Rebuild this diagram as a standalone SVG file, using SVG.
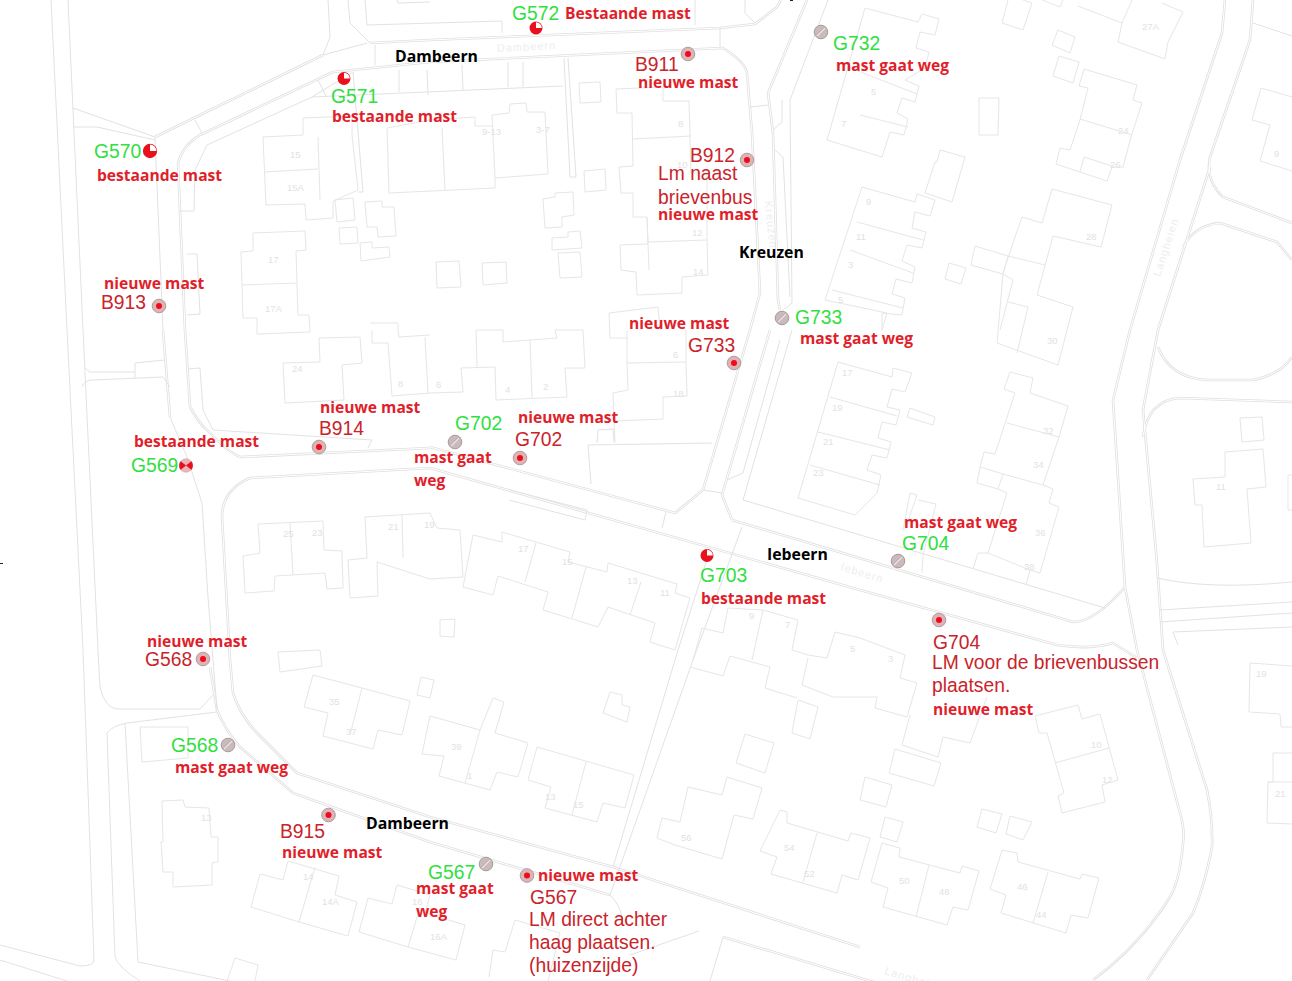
<svg xmlns="http://www.w3.org/2000/svg" xmlns:xlink="http://www.w3.org/1999/xlink" width="1292" height="981" viewBox="0 0 1292 981">
<style>
.m{fill:none;stroke:#e2e2e2;stroke-width:1;stroke-linejoin:round}
.b{fill:none;stroke:#e6e6e6;stroke-width:1;stroke-linejoin:round}
.n{font-family:"Liberation Sans",Arial,sans-serif;font-size:9.5px;fill:#e2e2e2}
.s{font-family:"Liberation Sans",Arial,sans-serif;font-size:11px;fill:#eeeeee}
.g{font-family:"Liberation Sans",Arial,sans-serif;font-size:19.3px;fill:#2fe03f}
.r{font-family:"Liberation Sans",Arial,sans-serif;font-size:19.3px;fill:#c9242b}
.t{font-family:"Open Sans",sans-serif;font-weight:700;font-size:15.6px;fill:#e01f2b}
.k{font-family:"Open Sans",sans-serif;font-weight:700;font-size:15.8px;fill:#000}
.ring{fill:#dcb4b6;stroke:#b39a9c;stroke-width:1}
.dot{fill:#ee0b1e}
.old{fill:#c9babc;stroke:#a89a9c;stroke-width:1}
.slash{stroke:#f1e6e6;stroke-width:1.3}
.slash2{stroke:#a88a8a;stroke-width:.8}
</style>
<defs>
<g id="dbl" fill="none" stroke-linejoin="round">
<path d="M210,667L217,710Q225,730 240,747L293,793L430,842L610,895"/>
<path d="M222,517L230,660L233,693Q240,715 257,733L297,773L430,817L613,867L860,947"/>
<path d="M723,937L860,978L977,1012"/>
<path d="M222,517Q222,490 250,478L430,468L860,590L1057,645Q1090,650 1113,643L1137,658"/>
<path d="M430,447L675,513L703,490"/>
<path d="M732,520L1073,622Q1095,622 1125,587"/>
<path d="M240,457L430,448"/>
<path d="M1225,0L1222,33L1180,160L1130,330L1113,400L1125,587L1137,650L1180,813Q1185,830 1183,843Q1180,880 1170,897Q1140,945 1093,980"/>
<path d="M1253,0L1250,40L1210,157Q1205,180 1223,197L1292,223"/>
<path d="M1210,167L1158,330L1143,410L1157,563L1163,650L1207,790Q1213,820 1212,847Q1205,885 1193,913L1147,980"/>
<path d="M1183,247Q1195,225 1220,223L1277,242L1292,260"/>
<path d="M1143,437Q1148,400 1180,398L1292,402"/>
<path d="M1158,347Q1170,378 1207,380L1253,380Q1280,375 1292,357"/>
<path d="M807,0L768,93L773,133L778,300L780,310"/>
<path d="M770,330L722,495L732,520"/>
<path d="M155,137L323,55"/>
<path d="M178,163Q183,145 200,135L333,72"/>
<path d="M163,330L170,417"/>
<path d="M178,163L185,330L190,407Q200,425 207,430Q225,450 240,457"/>
<path d="M430,62L333,72"/>
<path d="M430,62L723,48Q745,62 747,73L752,133L760,293L750,330L703,490"/>
<path d="M370,43L430,40L720,28L755,24L777,7L781,0"/>
</g>
<g id="mNew"><circle class="ring" r="6.8"/><circle class="dot" r="3"/></g>
<g id="mOld"><circle class="old" r="6.8"/><path class="slash2" d="M-4.6,3.4L3.4,-4.6"/><path class="slash" d="M-4,4L4,-4"/></g>
<g id="mPie"><circle r="6.5" fill="#e8101c"/><path d="M0,0V-5.8A5.8,5.8 0 0 1 5.8,0Z" fill="#fff"/></g>
</defs>
<rect width="1292" height="981" fill="#fff"/>
<g id="roads">
<use href="#dbl" xlink:href="#dbl" stroke="#e0e0e0" stroke-width="2.6"/>
<use href="#dbl" xlink:href="#dbl" stroke="#fff" stroke-width="1"/>
<g class="m">
<path d="M51,0L67,330L83,650L94,960Q94,966 80,966L0,945"/>
<path d="M68,0L83,330L98,650L100,687Q105,709 118,709L200,709L213,695"/>
<path d="M107,733L115,957Q118,967 140,981"/>
<path d="M107,733Q112,726 127,723L217,712"/>
<path d="M125,723L138,962L230,981"/>
<path d="M0,960L67,981"/>
<path d="M73,108L155,137L163,330"/>
<path d="M73,127L97,127L155,140"/>
<path d="M207,145L312,97L353,72"/>
<path d="M207,145L195,170"/>
<path d="M195,120L202,133"/>
<path d="M323,55L330,37L328,0"/>
<path d="M348,0L350,23L370,43"/>
<path d="M323,55L367,43"/>
<path d="M318,80L326,96"/>
<path d="M82,387Q84,380 93,380L163,377L170,387"/>
<path d="M85,368L90,372L135,372L135,363L165,360"/><path d="M135,372L135,378"/>
<path d="M188,369L200,368L203,410L213,430L372,440L368,448"/>
<path d="M170,417L187,457L202,503L208,597L213,660L217,710"/>
<path d="M187,254L197,254L200,314L187,315"/>
<path d="M180,211L194,211L195,170"/>
<path d="M375,45L375,65"/>
<path d="M399,70L399,92"/><path d="M427,70L428,95"/><path d="M462,65L463,90"/><path d="M508,62L508,87"/><path d="M523,62L523,87"/>
<path d="M312,97L563,86"/>
<path d="M353,72L363,192L358,192"/>
<path d="M564,58L570,177L576,177L568,58"/>
<path d="M365,0L367,25L502,21L502,33"/>
<path d="M397,0L398,3L430,2"/>
<path d="M695,0L695,25"/><path d="M745,0L745,13L755,23"/><path d="M720,28L720,47"/>
<path d="M750,107L768,105"/>
<path d="M828,0L790,100L792,303L783,310"/>
<path d="M773,130L782,122L782,100"/>
<path d="M775,150L783,157L790,297"/>
<path d="M792,330L743,500L1105,608"/>
<path d="M780,340L743,473L727,480"/>
<path d="M703,490L722,493"/>
<path d="M742,527L693,660L610,895"/>
<path d="M710,550L678,650L613,867"/>
<path d="M610,895Q620,905 622,917"/>
<path d="M510,490L587,510L585,520L509,500"/>
<path d="M662,528L666,512"/>
<path d="M588,445L712,443"/><path d="M588,445L591,484"/>
<path d="M597,443L598,430L613,429L614,442"/>
<path d="M1157,578Q1210,590 1292,582"/>
<path d="M1160,610L1292,602"/>
<path d="M1160,622L1292,613"/>
<path d="M1173,632L1178,645"/><path d="M1173,632L1292,627"/>
<path d="M1253,23L1292,36"/>
<path d="M699,931L630,955"/>
<path d="M723,937L710,981"/>
</g>
</g>
<g id="buildings" class="b">
<path d="M263,137L303,135L303,118L352,116L352,135L358,190L333,201L333,218L306,220L305,204L266,205Z"/>
<path d="M264,172L318,169"/><path d="M318,137L320,200"/>
<path d="M253,233L305,231L306,250L296,251L297,283L298,315L309,315L310,332L257,334L257,318L243,318L241,252L253,251Z"/><path d="M242,285L297,283"/>
<path d="M335,200L353,198L355,220L337,222Z"/>
<path d="M365,202L382,201L382,207L394,207L396,236L378,237L377,227L367,227Z"/>
<path d="M339,228L357,227L358,243L340,244Z"/>
<path d="M360,243L372,242L372,248L389,247L390,257L361,261Z"/>
<path d="M387,128L389,193L495,188L495,178L548,174L545,112L527,112L526,103L510,104L509,113L492,115L495,178"/>
<path d="M492,126L475,126L475,117L430,120L387,128"/><path d="M442,128L445,190"/>
<path d="M579,83L600,82L601,102L580,103Z"/>
<path d="M584,171L605,169L606,190L585,192Z"/>
<path d="M543,199L555,197L555,193L573,192L574,215L562,217L562,227L545,228Z"/>
<path d="M552,238L568,237L568,232L580,231L582,248L552,250Z"/>
<path d="M558,253L580,252L582,277L560,278Z"/>
<path d="M436,262L459,261L461,287L437,288Z"/>
<path d="M482,263L506,262L507,283L483,285Z"/>
<path d="M616,89L663,87L663,101L689,101L690,136L691,173L707,173L707,240L708,275L682,277L682,293L637,295L636,272L621,270L620,245L648,244L647,217L633,217L633,193L621,193L619,167L633,166L632,113L617,113Z"/>
<path d="M633,139L691,136"/><path d="M648,242L707,240"/><path d="M647,217L649,270"/>
<path d="M865,8L918,22L922,14L939,19L935,35L920,32L916,48L929,52L925,68L905,80L919,86L915,102L902,98L897,113L908,119L904,135L890,132L882,157L827,140L848,67L865,8"/>
<path d="M848,67L917,94"/><path d="M860,115L908,127"/>
<path d="M940,150L965,157L952,202L925,193L935,162L937,162Z"/>
<path d="M862,187L915,202L917,194L935,200L930,216L915,212L912,228L926,232L922,248L907,245L902,261L915,267L912,283L896,279L892,294L905,298L902,315L882,313L882,330L887,313L825,300L862,187"/>
<path d="M857,222L923,240"/><path d="M850,250L913,273"/><path d="M832,290L903,308"/>
<path d="M907,417L910,408L935,417L933,425Z"/>
<path d="M838,362L892,377L893,368L912,373L905,392L892,389L887,407L900,410L896,425L882,422L878,438L891,442L887,458L872,455L867,470L881,475L877,493L855,515L798,498Z"/>
<path d="M830,397L897,416"/><path d="M818,432L890,450"/><path d="M810,465L880,485"/>
<path d="M1008,0L1002,23L1023,30L1032,3L1023,0"/><path d="M1042,0L1060,7L1063,0"/>
<path d="M1078,6L1122,23L1118,42L1165,59L1168,42L1183,12L1162,3"/><path d="M1132,0L1122,23"/>
<path d="M1058,30L1075,37L1070,53L1052,45Z"/>
<path d="M1059,56L1079,62L1073,83L1053,76Z"/>
<path d="M979,98L999,98L998,135L979,135Z"/>
<path d="M1084,69L1137,85L1133,100L1142,103L1131,137L1123,167L1112,167L1107,181L1056,164L1060,148L1070,150L1080,120L1088,88L1079,86Z"/>
<path d="M1080,119L1132,135"/><path d="M1084,157L1080,172"/><path d="M1084,157L1112,166"/>
<path d="M1052,189L1112,205L1101,247L1053,236L1037,295L1073,307L1058,365L997,343L1003,274L1013,280L1000,330"/>
<path d="M1052,189L1042,223L1022,217L1015,237L1003,273"/><path d="M1008,256L1045,265"/>
<path d="M975,246L1008,256L1003,274L971,265Z"/>
<path d="M1008,302L1028,307L1017,353"/>
<path d="M949,263L966,268L961,284L945,279Z"/>
<path d="M1261,88L1292,97"/><path d="M1261,88L1252,120L1270,125L1260,161L1292,171"/>
<path d="M1010,372L1033,378L1030,393L1068,406L1059,437L1043,485L1053,489L1049,503L1059,507L1040,573L1030,570L1026,585"/>
<path d="M1010,372L1004,389L1015,393L995,454L984,452L980,467L977,483L998,489L1007,493L988,553L978,553L973,569"/>
<path d="M980,467L1003,474L1043,485"/><path d="M988,553L1030,570"/><path d="M1007,423L1059,437"/><path d="M998,489L1003,474"/>
<path d="M910,493L917,495L905,530L903,530Z"/>
<path d="M918,500L936,504L923,555L922,573"/>
<path d="M728,608L723,633L702,628L693,660"/><path d="M728,608L763,610L798,620L792,650L808,655L827,658L835,632L860,638L905,655L900,678L917,683L907,717L875,708L877,697L833,697L802,685L808,658"/>
<path d="M763,610L752,660"/>
<path d="M690,667L723,676L730,656L770,667L765,688L797,698"/>
<path d="M910,715L902,745L938,757L943,737L970,743L987,697"/>
<path d="M895,749L941,763L934,786L889,773Z"/>
<path d="M865,777L892,785L886,807L860,800Z"/>
<path d="M885,817L903,822L897,842L880,837Z"/>
<path d="M982,809L1002,814L996,833L977,827Z"/>
<path d="M1010,816L1032,822L1023,840L1006,834Z"/>
<path d="M882,843L900,848L899,857L960,873L962,866L979,871L968,910L953,907L947,925L883,907L888,888L871,882Z"/><path d="M929,865L916,917"/>
<path d="M1002,850L1017,853L1018,862L1080,879L1082,874L1099,878L1088,918L1071,915L1066,933L1001,913L1006,895L990,889Z"/><path d="M1048,872L1033,923"/>
<path d="M1035,716L1078,705L1082,719L1100,714L1118,780L1102,785L1105,802L1062,813L1058,796L1064,793L1047,733L1039,733Z"/><path d="M1055,763L1109,748"/>
<path d="M1250,663L1292,666"/><path d="M1250,663L1249,712L1280,714L1281,727L1292,727"/>
<path d="M1273,753L1292,753"/><path d="M1273,753L1273,782L1268,782L1267,823L1292,824"/><path d="M1268,782L1292,782"/>
<path d="M1240,418L1262,417L1264,440L1242,442Z"/>
<path d="M1225,452L1263,449L1266,487L1247,489L1251,543L1204,547L1202,505L1195,505L1193,479L1225,477Z"/>
<path d="M1292,475L1288,475L1288,510L1292,510"/>
<path d="M258,524L323,521L324,550L342,551L343,588L327,589L325,573L275,576L274,591L245,593L243,556L260,553Z"/><path d="M290,522L293,575"/>
<path d="M365,517L430,513L437,528L460,530L463,577L430,579L377,562L378,596L350,598L348,560L367,558Z"/><path d="M402,515L403,558"/>
<path d="M473,535L502,542L502,532L570,552L568,562L607,572L608,563L677,584L675,593L690,598L675,650L650,642L655,623L608,607L598,627L543,610L548,592L498,576L493,595L463,587Z"/>
<path d="M536,543L525,582"/><path d="M586,567L572,618"/><path d="M641,582L630,615"/>
<path d="M440,620L455,619L454,637L440,636Z"/>
<path d="M627,363L686,362L687,396L663,397L663,419L614,421L613,393L628,390Z"/><path d="M627,330L627,363"/><path d="M686,330L686,362"/>
<path d="M609,313L658,307L660,330"/><path d="M609,313L610,338L627,338"/><path d="M614,421L615,443"/>
<path d="M430,393L463,392L461,368L495,367L496,400L567,397L565,368L585,368L583,330L555,330L557,338L503,342L503,330L476,330L477,367"/><path d="M530,340L532,398"/>
<path d="M283,363L320,362L319,338L360,337L362,363L342,365L344,400L285,403Z"/>
<path d="M372,330L372,343L388,343L392,396L430,393"/><path d="M398,330L399,337L430,335"/><path d="M425,337L428,393"/>
<path d="M370,323L398,323L398,330"/>
<path d="M313,675L362,688L410,701L402,735L378,730L373,749L323,736L328,713L304,707Z"/><path d="M362,688L350,735"/>
<path d="M278,652L320,650L322,666L280,672Z"/>
<path d="M421,677L434,680L430,698L417,695Z"/>
<path d="M140,727L188,727L188,758L142,762Z"/>
<path d="M162,801L183,800L185,807L209,808L211,837L218,837L218,862L212,863L212,885L173,887L173,872L163,872L161,842L163,842Z"/>
<path d="M260,874L283,880L288,861L339,876L335,895L357,902L348,936L299,922L251,907Z"/><path d="M315,867L299,922"/>
<path d="M368,898L392,904L397,885L430,895L425,913L465,925L456,960L408,947L359,932Z"/><path d="M420,907L408,947"/>
<path d="M235,958L258,965L255,981"/><path d="M235,958L227,981"/>
<path d="M430,716L480,730L493,698L504,702L495,733L528,743L518,777L497,772L490,790L439,776L444,756L422,754Z"/><path d="M480,730L465,783"/>
<path d="M537,747L634,775L625,808L603,803L597,822L545,808L551,787L528,780Z"/><path d="M586,762L572,815"/>
<path d="M610,692L622,695L622,705L630,707L627,722L603,713Z"/>
<path d="M688,787L722,795L727,777L762,788L753,819L734,815L722,859L675,845L657,838L662,818L680,822Z"/>
<path d="M745,734L774,743L765,773L736,763Z"/>
<path d="M780,810L787,812L787,823L848,841L851,833L870,838L858,880L842,875L837,893L771,874L777,857L760,851Z"/><path d="M817,833L803,882"/>
<path d="M798,700L818,707L810,739L792,733Z"/>
<path d="M489,977L493,950L505,952L515,920L560,933L548,981"/>
</g>
<g id="faint-labels">
<text class="s" transform="translate(497,52) rotate(-3)" letter-spacing="1">Dambeern</text>
<text class="s" transform="translate(769,243) rotate(84)" x="-42" letter-spacing="1">Kreuzen</text>
<text class="s" transform="translate(840,570) rotate(17)" letter-spacing="1">Iebeern</text>
<text class="s" transform="translate(1160,277) rotate(-72)" letter-spacing="1">Langheien</text>
<text class="s" transform="translate(884,974) rotate(17)" letter-spacing="1">Langheien</text>
<text class="n" x="290" y="158">15</text><text class="n" x="287" y="191">15A</text><text class="n" x="268" y="263">17</text><text class="n" x="265" y="312">17A</text>
<text class="n" x="482" y="135">9-13</text><text class="n" x="536" y="133">3-7</text><text class="n" x="678" y="127">8</text><text class="n" x="677" y="168">10</text><text class="n" x="692" y="236">12</text><text class="n" x="693" y="275">14</text>
<text class="n" x="292" y="372">24</text><text class="n" x="398" y="387">8</text><text class="n" x="436" y="388">6</text><text class="n" x="505" y="393">4</text><text class="n" x="543" y="390">2</text><text class="n" x="673" y="358">6</text><text class="n" x="673" y="397">18</text>
<text class="n" x="871" y="95">5</text><text class="n" x="841" y="127">7</text><text class="n" x="866" y="205">9</text><text class="n" x="856" y="240">11</text><text class="n" x="848" y="268">3</text><text class="n" x="838" y="303">5</text>
<text class="n" x="1142" y="30">27A</text><text class="n" x="1118" y="134">24</text><text class="n" x="1110" y="168">26</text><text class="n" x="1086" y="240">28</text><text class="n" x="1274" y="157">9</text>
<text class="n" x="1047" y="344">30</text><text class="n" x="1043" y="434">32</text><text class="n" x="1033" y="468">34</text><text class="n" x="1035" y="536">36</text><text class="n" x="1024" y="570">38</text><text class="n" x="1216" y="490">11</text>
<text class="n" x="842" y="376">17</text><text class="n" x="832" y="411">19</text><text class="n" x="823" y="445">21</text><text class="n" x="813" y="476">23</text>
<text class="n" x="283" y="537">25</text><text class="n" x="312" y="536">23</text><text class="n" x="388" y="530">21</text><text class="n" x="424" y="528">19</text><text class="n" x="518" y="552">17</text><text class="n" x="562" y="565">15</text><text class="n" x="627" y="584">13</text><text class="n" x="660" y="596">11</text>
<text class="n" x="749" y="619">9</text><text class="n" x="785" y="628">7</text><text class="n" x="850" y="652">5</text><text class="n" x="888" y="662">3</text>
<text class="n" x="329" y="705">35</text><text class="n" x="346" y="735">37</text><text class="n" x="451" y="750">39</text><text class="n" x="467" y="779">1</text><text class="n" x="545" y="800">13</text><text class="n" x="573" y="808">15</text>
<text class="n" x="681" y="841">56</text><text class="n" x="784" y="851">54</text><text class="n" x="804" y="877">52</text><text class="n" x="899" y="884">50</text><text class="n" x="939" y="895">48</text><text class="n" x="1017" y="890">46</text><text class="n" x="1036" y="918">44</text><text class="n" x="1091" y="748">10</text><text class="n" x="1102" y="783">12</text>
<text class="n" x="201" y="821">13</text><text class="n" x="303" y="880">14</text><text class="n" x="322" y="905">14A</text><text class="n" x="412" y="905">16</text><text class="n" x="430" y="940">16A</text><text class="n" x="1256" y="677">19</text><text class="n" x="1275" y="797">21</text>
</g>
<g id="marks" stroke="#222" stroke-width="1"><path d="M0,563.5H3"/><path d="M790,.5H793"/></g>

<g id="G572"><use href="#mPie" xlink:href="#mPie" x="536" y="28"/><text class="g" x="512" y="20">G572</text><text class="t" x="565" y="18.5">Bestaande mast</text></g>
<g id="G571"><use href="#mPie" xlink:href="#mPie" x="344" y="78.5"/><text class="g" x="331" y="103">G571</text><text class="t" x="332" y="122">bestaande mast</text></g>
<g id="G570"><use href="#mPie" xlink:href="#mPie" transform="translate(150,151) scale(1.1)"/><text class="g" x="94" y="158">G570</text><text class="t" x="97" y="181">bestaande mast</text></g>
<g id="B911"><use href="#mNew" xlink:href="#mNew" x="688" y="54"/><text class="r" x="635" y="71">B911</text><text class="t" x="638" y="88">nieuwe mast</text></g>
<g id="G732-oud"><use href="#mOld" xlink:href="#mOld" x="821" y="32"/><text class="g" x="833" y="50">G732</text><text class="t" x="836" y="71">mast gaat weg</text></g>
<g id="B912"><use href="#mNew" xlink:href="#mNew" x="747" y="160"/><text class="r" x="690" y="162">B912</text><text class="r" x="658" y="180">Lm naast</text><text class="r" x="658" y="204">brievenbus</text><text class="t" x="658" y="220">nieuwe mast</text></g>
<g id="B913"><use href="#mNew" xlink:href="#mNew" x="159" y="306"/><text class="t" x="104" y="289">nieuwe mast</text><text class="r" x="101" y="309">B913</text></g>
<g id="G733-nieuw"><use href="#mNew" xlink:href="#mNew" x="734" y="363"/><text class="t" x="629" y="329">nieuwe mast</text><text class="r" x="688" y="352">G733</text></g>
<g id="G733-oud"><use href="#mOld" xlink:href="#mOld" x="782" y="318"/><text class="g" x="795" y="324">G733</text><text class="t" x="800" y="344">mast gaat weg</text></g>
<g id="B914"><use href="#mNew" xlink:href="#mNew" x="319" y="447"/><text class="t" x="320" y="413">nieuwe mast</text><text class="r" x="319" y="435">B914</text></g>
<g id="G702-oud"><use href="#mOld" xlink:href="#mOld" x="455" y="442"/><text class="g" x="455" y="430">G702</text><text class="t" x="414" y="463">mast gaat</text><text class="t" x="414" y="486">weg</text></g>
<g id="G702-nieuw"><use href="#mNew" xlink:href="#mNew" x="520" y="458"/><text class="t" x="518" y="423">nieuwe mast</text><text class="r" x="515" y="446">G702</text></g>
<g id="G569"><circle cx="186" cy="465.5" r="6.8" fill="#eab4b8" stroke="#d9a0a4" stroke-width=".6"/><path d="M180.7,461.3L186,465.5L180.7,469.7A6.8,6.8 0 0 1 180.7,461.3ZM191.3,461.3L186,465.5L191.3,469.7A6.8,6.8 0 0 0 191.3,461.3Z" fill="#e8101c"/><text class="t" x="134" y="447">bestaande mast</text><text class="g" x="131" y="472">G569</text></g>
<g id="G703"><use href="#mPie" xlink:href="#mPie" x="707" y="555.5"/><text class="g" x="700" y="582">G703</text><text class="t" x="701" y="604">bestaande mast</text></g>
<g id="G704-oud"><use href="#mOld" xlink:href="#mOld" x="898" y="561"/><text class="t" x="904" y="528">mast gaat weg</text><text class="g" x="902" y="550">G704</text></g>
<g id="G704-nieuw"><use href="#mNew" xlink:href="#mNew" x="939" y="620"/><text class="r" x="933" y="649">G704</text><text class="r" x="932" y="669">LM voor de brievenbussen</text><text class="r" x="932" y="692">plaatsen.</text><text class="t" x="933" y="715">nieuwe mast</text></g>
<g id="G568-nieuw"><use href="#mNew" xlink:href="#mNew" x="203" y="659"/><text class="t" x="147" y="647">nieuwe mast</text><text class="r" x="145" y="666">G568</text></g>
<g id="G568-oud"><use href="#mOld" xlink:href="#mOld" x="228" y="745"/><text class="g" x="171" y="752">G568</text><text class="t" x="175" y="773">mast gaat weg</text></g>
<g id="B915"><use href="#mNew" xlink:href="#mNew" x="328.5" y="815"/><text class="r" x="280" y="838">B915</text><text class="t" x="282" y="858">nieuwe mast</text></g>
<g id="G567-oud"><use href="#mOld" xlink:href="#mOld" x="486" y="864"/><text class="g" x="428" y="879">G567</text><text class="t" x="416" y="894">mast gaat</text><text class="t" x="416" y="917">weg</text></g>
<g id="G567-nieuw"><use href="#mNew" xlink:href="#mNew" x="527" y="875.5"/><text class="t" x="538" y="881">nieuwe mast</text><text class="r" x="530" y="904">G567</text><text class="r" x="529" y="926">LM direct achter</text><text class="r" x="529" y="949">haag plaatsen.</text><text class="r" x="529" y="972">(huizenzijde)</text></g>
<g id="street-names"><text class="k" x="395" y="62">Dambeern</text><text class="k" x="739" y="258">Kreuzen</text><text class="k" x="767" y="560">Iebeern</text><text class="k" x="366" y="829">Dambeern</text></g>
</svg>
